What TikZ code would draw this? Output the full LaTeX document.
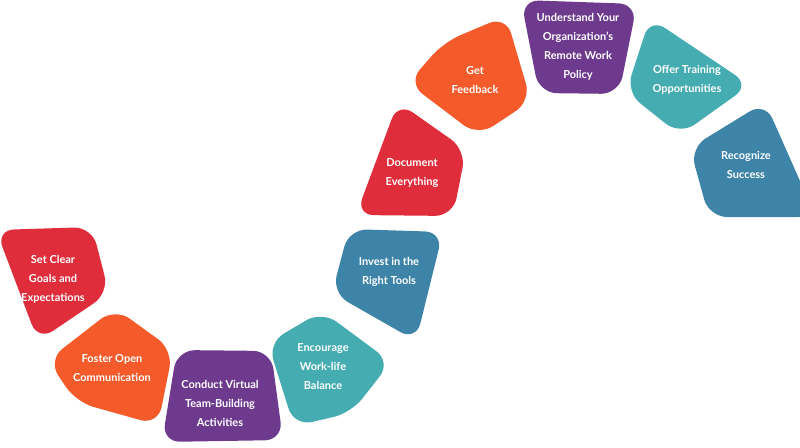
\documentclass[tikz,border=0pt]{standalone}
\usepackage{fontspec}
\setmainfont{Lato}
\usepackage{tikz}

\definecolor{cred}{HTML}{E02D3C}
\definecolor{corange}{HTML}{F45A2A}
\definecolor{cpurple}{HTML}{6E3A8E}
\definecolor{cteal}{HTML}{45ACB1}
\definecolor{cblue}{HTML}{3D84A8}

\tikzset{
  blob/.style={rounded corners=18pt},
  lbl/.style={text=white, align=center, font=\fontsize{11}{19}\selectfont\bfseries}
}

\begin{document}
\begin{tikzpicture}[x=1pt,y=-1pt]
\useasboundingbox (0,0) rectangle (800,447);
% the blobs, left to right along the wave
\fill[blob,cred] (-4,230) -- (92,227) -- (109,293) -- (38,341) -- cycle;
\fill[blob,corange] (115,308) -- (173,350) -- (158,425) -- (76,402) -- (48,360) -- cycle;
\fill[blob,cpurple] (177,350) -- (271,351) -- (283,440) -- (162,442) -- cycle;
\fill[blob,cteal] (322,311) -- (391,362) -- (351,413) -- (294,426) -- (268,343) -- cycle;
\fill[blob,cblue] (349,229) -- (443,232) -- (416,341) -- (332,293) -- cycle;
\fill[blob,cred] (398,102) -- (466,150) -- (453,216) -- (356,215) -- cycle;
\fill[blob,corange] (408,83) -- (444,42) -- (506,16) -- (531,101) -- (478,136) -- cycle;
\fill[blob,cpurple] (521,0) -- (637,4) -- (619,94) -- (539,93) -- cycle;
\fill[blob,cteal] (650,18) -- (750,85) -- (680,135) -- (626,92) -- cycle;
\fill[blob,cblue] (765,102) -- (816,217) -- (709,217) -- (690,148) -- cycle;
% labels
\node[lbl] (goals) at (53,279) {Set Clear\\Goals and\\Expectations};
\node[lbl] (comm) at (112,368) {Foster Open\\Communication};
\node[lbl] (team) at (220,403) {Conduct Virtual\\Team-Building\\Activities};
\node[lbl] (balance) at (323,367) {Encourage\\Work-life\\Balance};
\node[lbl] (tools) at (389,272) {Invest in the\\Right Tools};
\node[lbl] (docs) at (412,173) {Document\\Everything};
\node[lbl] (feedback) at (475,80) {Get\\Feedback};
\node[lbl] (policy) at (578,47) {Understand Your\\Organization’s\\Remote Work\\Policy};
\node[lbl] (training) at (687,80) {Offer Training\\Opportunities};
\node[lbl] (success) at (746,165) {Recognize\\Success};
\end{tikzpicture}
\end{document}
